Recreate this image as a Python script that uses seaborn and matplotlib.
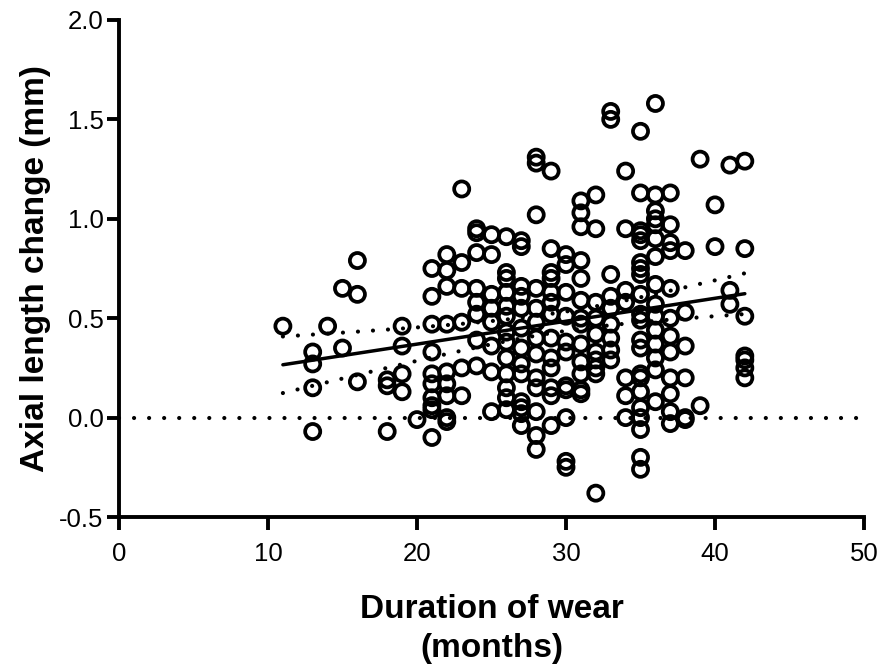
import numpy as np
import pandas as pd
import seaborn as sns
import matplotlib.pyplot as plt

# axial length change (mm) read per month of wear
cols = {
    11: [0.46],
    13: [0.33, 0.27, 0.15, -0.07],
    14: [0.46],
    15: [0.65, 0.35],
    16: [0.79, 0.62, 0.18],
    18: [0.19, 0.16, -0.07],
    19: [0.46, 0.36, 0.22, 0.13],
    20: [-0.01],
    21: [0.75, 0.61, 0.47, 0.33, 0.22, 0.17, 0.10, 0.06, 0.04, -0.10],
    22: [0.82, 0.74, 0.66, 0.47, 0.23, 0.17, 0.11, 0.0, -0.02],
    23: [1.15, 0.78, 0.65, 0.48, 0.25, 0.11],
    24: [0.95, 0.93, 0.83, 0.65, 0.58, 0.52, 0.39, 0.26],
    25: [0.92, 0.82, 0.62, 0.55, 0.48, 0.36, 0.23, 0.03],
    26: [0.91, 0.73, 0.70, 0.63, 0.56, 0.51, 0.43, 0.38, 0.30, 0.22, 0.15, 0.10, 0.04],
    27: [0.89, 0.86, 0.66, 0.61, 0.55, 0.45, 0.35, 0.27, 0.22, 0.08, 0.05, 0.02, -0.04],
    28: [1.31, 1.28, 1.02, 0.65, 0.55, 0.48, 0.40, 0.32, 0.20, 0.15, 0.03, -0.09, -0.16],
    29: [1.24, 0.85, 0.73, 0.70, 0.63, 0.58, 0.52, 0.40, 0.30, 0.25, 0.15, 0.11, -0.04],
    30: [0.82, 0.77, 0.63, 0.51, 0.38, 0.33, 0.16, 0.14, 0.0, -0.22, -0.25],
    31: [1.09, 1.03, 0.96, 0.79, 0.70, 0.59, 0.50, 0.47, 0.37, 0.28, 0.22, 0.14, 0.12],
    32: [1.12, 0.95, 0.58, 0.50, 0.42, 0.33, 0.29, 0.25, 0.22, -0.38],
    33: [1.54, 1.50, 0.72, 0.61, 0.55, 0.47, 0.40, 0.34, 0.29],
    34: [1.24, 0.95, 0.64, 0.58, 0.20, 0.11, 0.0],
    35: [1.44, 1.13, 0.94, 0.92, 0.89, 0.78, 0.75, 0.72, 0.62, 0.52, 0.49, 0.39,
         0.35, 0.22, 0.20, 0.13, 0.05, 0.0, -0.06, -0.20, -0.26],
    36: [1.58, 1.12, 1.04, 1.00, 0.97, 0.90, 0.81, 0.67, 0.57, 0.51, 0.44, 0.37,
         0.30, 0.24, 0.08],
    37: [1.13, 0.97, 0.88, 0.84, 0.65, 0.50, 0.41, 0.33, 0.20, 0.12, 0.03, -0.03],
    38: [0.84, 0.53, 0.36, 0.20, 0.0, -0.01],
    39: [1.30, 0.06],
    40: [1.07, 0.86],
    41: [1.27, 0.64, 0.57],
    42: [1.29, 0.85, 0.51, 0.31, 0.29, 0.25, 0.20],
}

months = [m for m, v in cols.items() for _ in v]
change = [y for v in cols.values() for y in v]
df = pd.DataFrame({'months': months, 'change': change})

sns.set_style("ticks")
plt.rcParams['font.family'] = ['Liberation Sans', 'DejaVu Sans']
plt.rcParams['text.color'] = 'black'
plt.rcParams['axes.labelcolor'] = 'black'

fig = plt.figure(figsize=(8.84, 6.66), dpi=100)
ax = fig.add_axes([0.1346, 0.2237, 0.8428, 0.7463])

# zero reference line
ax.plot([0, 50], [0, 0], color='black', lw=3, linestyle=(0, (0.01, 3.6)),
        dash_capstyle='round', zorder=1)

sns.scatterplot(data=df, x='months', y='change', ax=ax, s=118,
                facecolors='none', edgecolor='black', linewidth=2.7,
                marker='o', zorder=3)

# linear fit + 95% confidence band of the mean
x = df['months'].to_numpy(float)
y = df['change'].to_numpy(float)
b, a = np.polyfit(x, y, 1)
xs = np.linspace(x.min(), x.max(), 100)
n = len(x)
resid = y - (a + b * x)
s = np.sqrt((resid ** 2).sum() / (n - 2))
se = s * np.sqrt(1 / n + (xs - x.mean()) ** 2 / ((x - x.mean()) ** 2).sum())
ax.plot(xs, a + b * xs, color='black', lw=2.5, zorder=4)
for sign in (1, -1):
    ax.plot(xs, a + b * xs + sign * 1.97 * se, color='black', lw=3,
            linestyle=(0, (0.01, 3.6)), dash_capstyle='round', zorder=4)

ax.set_xlim(0, 50)
ax.set_ylim(-0.5, 2.0)
ax.set_xticks([0, 10, 20, 30, 40, 50])
ax.set_yticks([-0.5, 0.0, 0.5, 1.0, 1.5, 2.0])
ax.set_yticklabels(['-0.5', '0.0', '0.5', '1.0', '1.5', '2.0'])
sns.despine(ax=ax)
for sp in ['left', 'bottom']:
    ax.spines[sp].set_linewidth(2.8)
    ax.spines[sp].set_color('black')
ax.tick_params(width=2.8, length=9, labelsize=18.5, color='black', labelcolor='black')
ax.tick_params(axis='x', pad=9)
ax.tick_params(axis='y', pad=2)
ax.set_xlabel('Duration of wear\n(months)', fontsize=24, fontweight='bold',
              labelpad=20, linespacing=1.35)
ax.set_ylabel('Axial length change (mm)', fontsize=24, fontweight='bold', labelpad=6)

fig.savefig('out.png', dpi=100)
